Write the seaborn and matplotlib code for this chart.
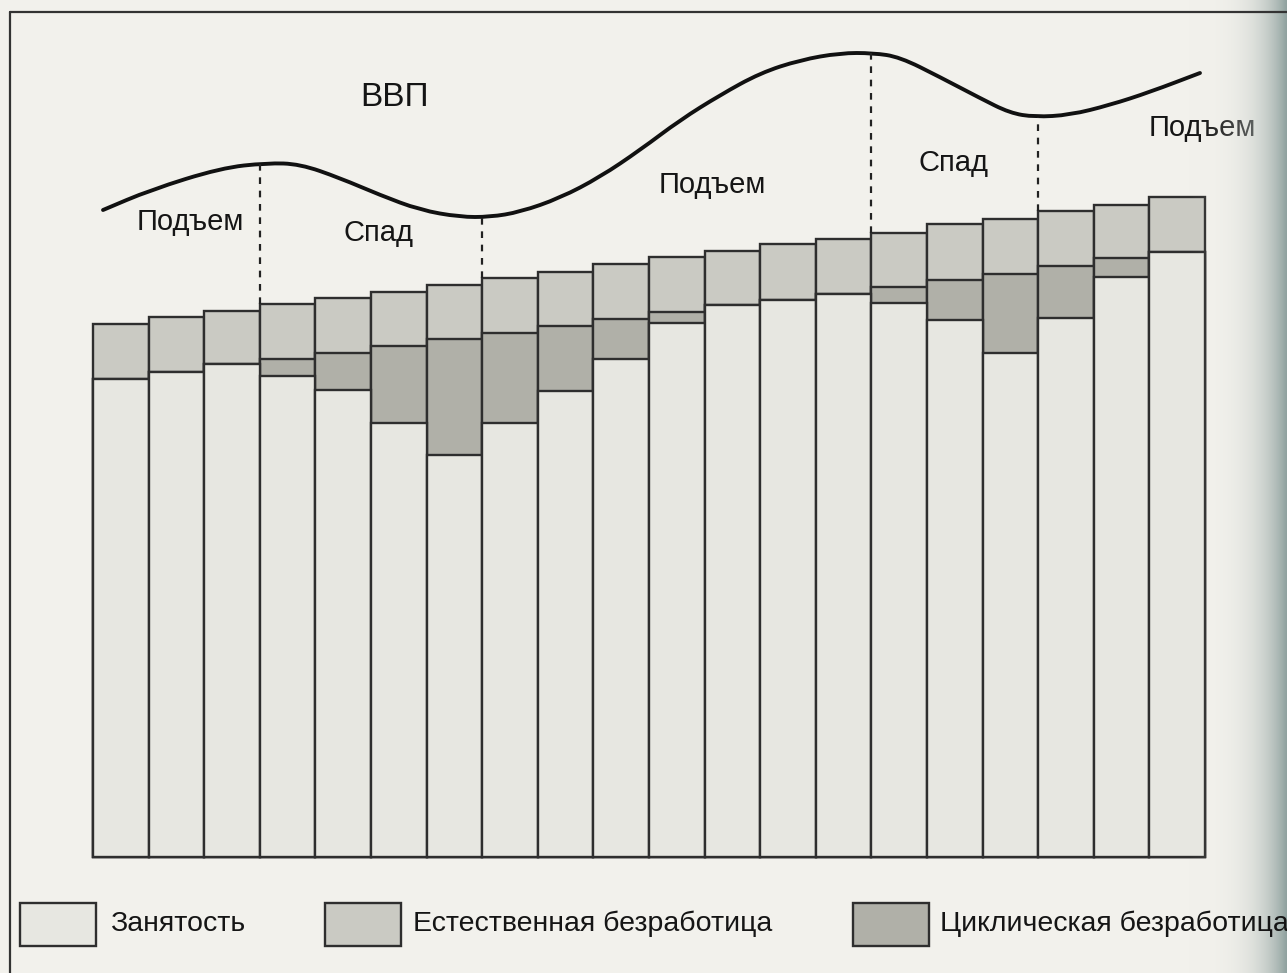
import numpy as np
import pandas as pd
import matplotlib
matplotlib.use("Agg")
import matplotlib.pyplot as plt
from matplotlib.lines import Line2D
from matplotlib.patches import Rectangle, PathPatch
from matplotlib.path import Path
import seaborn as sns

# ---------------- data ----------------
periods = list(range(1, 21))
employment = [47.8, 48.5, 49.3, 48.1, 46.7, 43.4, 40.2, 43.4, 46.6, 49.8,
              53.4, 55.2, 55.7, 56.3, 55.4, 53.7, 50.4, 53.9, 58.0, 60.5]
cyclical = [0.0, 0.0, 0.0, 1.7, 3.7, 7.7, 11.6, 9.0, 6.5, 4.0,
            1.1, 0.0, 0.0, 0.0, 1.6, 4.0, 7.9, 5.2, 1.9, 0.0]
natural = [5.5, 5.5, 5.3, 5.5, 5.5, 5.4, 5.4, 5.5, 5.4, 5.5,
           5.5, 5.4, 5.6, 5.5, 5.4, 5.6, 5.5, 5.5, 5.3, 5.5]

gdp_x = [-0.32, 0.53, 1.80, 2.63, 3.22, 3.94, 4.66, 5.38, 6.10, 6.64,
         7.18, 7.90, 8.62, 9.34, 10.06, 10.78, 11.50, 12.22, 12.94, 13.53,
         14.01, 14.73, 15.45, 15.99, 16.44, 17.07, 17.79, 18.51, 19.41]
gdp_y = [64.7, 66.7, 68.9, 69.4, 69.3, 67.9, 66.2, 64.7, 64.0, 64.0,
         64.5, 65.9, 68.0, 70.7, 73.7, 76.2, 78.4, 79.7, 80.4, 80.4,
         80.0, 78.0, 75.9, 74.4, 74.0, 74.2, 75.2, 76.5, 78.4]

phase_bounds = [2.5, 6.5, 13.5, 16.5]
phase_labels = ["Подъем", "Спад", "Подъем", "Спад", "Подъем"]
legend_labels = ["Занятость", "Естественная безработица", "Циклическая безработица"]
gdp_label = "ВВП"

# ---------------- styling ----------------
sns.set_style("white")
plt.rcParams["font.family"] = ["Liberation Sans", "DejaVu Sans"]

paper = "#f2f1ec"
c_emp = "#e7e7e1"
c_nat = "#cacac3"
c_cyc = "#b0b0a8"
edge = "#2e2e2e"
ink = "#151515"

W, H = 1287, 973
fig = plt.figure(figsize=(W / 100, H / 100), dpi=100, facecolor=paper)

x0_px, x1_px = 93, 1205
yb_px, yt_px = 857, 12
ax = fig.add_axes([x0_px / W, (H - yb_px) / H, (x1_px - x0_px) / W, (yb_px - yt_px) / H])
ax.set_facecolor("none")

df = pd.DataFrame({"period": periods, "emp": employment, "cyc": cyclical, "nat": natural})
df["emp_cyc"] = df["emp"] + df["cyc"]
df["total"] = df["emp_cyc"] + df["nat"]

common = dict(data=df, x="period", order=periods, width=1.0, ax=ax,
              edgecolor=edge, linewidth=1.7, saturation=1.0, errorbar=None)
sns.barplot(y="total", color=c_nat, **common)
sns.barplot(y="emp_cyc", color=c_cyc, **common)
sns.barplot(y="emp", color=c_emp, **common)
for p in ax.patches:
    p.set_clip_on(False)

# GDP curve, rendered as a smooth path through the read points
pts = np.column_stack([gdp_x, gdp_y])
verts = [tuple(pts[0])]
codes = [Path.MOVETO]
verts.append(tuple((pts[0] + pts[1]) / 2)); codes.append(Path.LINETO)
for i in range(1, len(pts) - 1):
    mid = (pts[i] + pts[i + 1]) / 2
    verts += [tuple(pts[i]), tuple(mid)]
    codes += [Path.CURVE3, Path.CURVE3]
verts.append(tuple(pts[-1])); codes.append(Path.LINETO)
ax.add_patch(PathPatch(Path(verts, codes), facecolor="none", edgecolor="#111111",
                       linewidth=2.8, capstyle="round", joinstyle="round", clip_on=False))

# dashed phase boundaries, from curve down to the taller neighbouring bar
totals = df["total"].to_numpy()
for b in phase_bounds:
    ycurve = np.interp(b, gdp_x, gdp_y)
    left, right = int(np.floor(b)), int(np.ceil(b))
    ytop = max(totals[left], totals[right])
    ax.plot([b, b], [ytop, ycurve], color="#222222", linewidth=1.6,
            linestyle=(0, (3, 3)))

# phase labels
label_pos = [(1.25, 63.5), (4.63, 62.4), (10.63, 67.2), (14.97, 69.4), (19.45, 72.9)]
for txt, (lx, ly) in zip(phase_labels, label_pos):
    ax.text(lx, ly, txt, ha="center", va="center", fontsize=21, color=ink)
ax.text(4.93, 76.0, gdp_label, ha="center", va="center", fontsize=24, color=ink)

ax.set_xlim(-0.5, 19.5)
ax.set_ylim(0, 84.5)
ax.axis("off")

# frame (top and left edges of the boxed figure)
fig.add_artist(Line2D([10 / W, 10 / W], [0, 1 - 12 / H], transform=fig.transFigure,
                      color="#333333", linewidth=1.6))
fig.add_artist(Line2D([10 / W, 1287 / W], [1 - 12 / H, 1 - 12 / H], transform=fig.transFigure,
                      color="#333333", linewidth=1.6))

# legend drawn as boxes with labels
legend_boxes = [(20, c_emp), (325, c_nat), (853, c_cyc)]
text_x = [110, 413, 940]
for (bx, col), tx, lab in zip(legend_boxes, text_x, legend_labels):
    fig.add_artist(Rectangle((bx / W, 1 - 946 / H), 76 / W, 43 / H, transform=fig.transFigure,
                             facecolor=col, edgecolor=edge, linewidth=1.7))
    fig.text(tx / W, 1 - 924 / H, lab, ha="left", va="center", fontsize=20.5, color=ink)

# page shadow on the right edge
grad_ax = fig.add_axes([1180 / W, 0, 107 / W, 1])
grad = np.linspace(0, 1, 200) ** 2
grad_ax.imshow(grad[None, :], aspect="auto", cmap=matplotlib.colors.LinearSegmentedColormap.from_list(
    "sh", [(0.95, 0.945, 0.925, 0.0), (0.52, 0.60, 0.59, 0.9)]), extent=[0, 1, 0, 1])
grad_ax.axis("off")

fig.savefig("out.png", dpi=100, facecolor=paper)
